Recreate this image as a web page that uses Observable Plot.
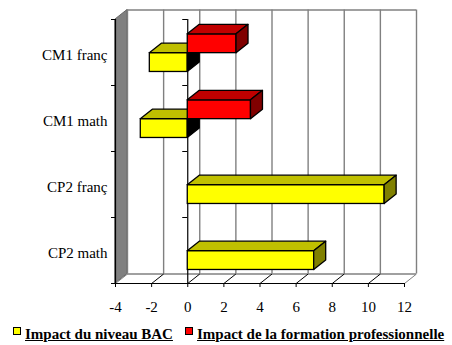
<!DOCTYPE html>
<html>
<head>
<meta charset="utf-8">
<script src="https://cdn.jsdelivr.net/npm/d3@7"></script>
<script src="https://cdn.jsdelivr.net/npm/@observablehq/plot@0.6"></script>
<style>
  body { margin: 0; background: #fff; font-family: "Liberation Serif", "Times New Roman", serif; }
  #wrap { position: relative; width: 452px; height: 345px; }
  #chart svg { display: block; }
  #chart svg text { font-family: "Liberation Serif", "Times New Roman", serif; }
  .key { position: absolute; top: 327px; width: 8px; height: 8px; box-sizing: border-box; border: 1px solid #000; }
  .lab { position: absolute; top: 326px; font-family: "Liberation Serif", "Times New Roman", serif; font-size: 15px; font-weight: bold; text-decoration: underline; white-space: nowrap; color: #000; }
</style>
</head>
<body>
<div id="wrap">
  <div id="chart"></div>
  <div id="legend"></div>
</div>
<script>
// Categories, top to bottom
const categories = ["CM1 franç", "CM1 math", "CP2 franç", "CP2 math"];
const seriesNames = ["Impact du niveau BAC", "Impact de la formation professionnelle"];
// Effect sizes per category
const bacValues = [-2.1, -2.6, 10.9, 7.0];
const formationValues = [2.7, 3.5, 0, 0];
// Value axis ticks
const xTicks = [-4, -2, 0, 2, 4, 6, 8, 10, 12];

const colors = [
  {front: "#ffff00", top: "#c0c000", side: "#808000", key: "#ffff00"},
  {front: "#ff0000", top: "#c00000", side: "#800000", key: "#ff0000"}
];

const SERIF = "'Liberation Serif', 'Times New Roman', serif";

// Plot frame
const W = 452, H = 318, ML = 115, MR = 48, MT = 19, MB = 35;
const xDomain = [xTicks[0], xTicks[xTicks.length - 1]];
const pxX = (W - ML - MR) / (xDomain[1] - xDomain[0]);
const pxY = (H - MT - MB) / categories.length;
// Depth of the 3-D projection (pixels), converted to data units
const ddx = 12 / pxX;
const ddy = -9.5 / pxY;
// Vertical slot of each series inside a category band (series 0 below series 1)
const slots = [[0.51, 0.795], [0.225, 0.51]];

const valuesBySeries = [bacValues, formationValues];
const bars = valuesBySeries.map((vals, s) =>
  vals.map((v, i) => ({
    id: `${s}-${i}`, s, i, v,
    lo: Math.min(0, v), hi: Math.max(0, v),
    y1: i + slots[s][0], y2: i + slots[s][1]
  })).filter(b => b.v !== 0)
);

function barMarks(list, c) {
  const tops = list.flatMap(b => [
    {id: b.id, y: b.y1, x1: b.lo, x2: b.hi},
    {id: b.id, y: b.y1 + ddy, x1: b.lo + ddx, x2: b.hi + ddx}
  ]);
  const sides = list.flatMap(b => [
    {id: b.id, x: b.hi, y1: b.y2, y2: b.y1, fill: b.v < 0 ? "#000000" : c.side},
    {id: b.id, x: b.hi + ddx, y1: b.y2 + ddy, y2: b.y1 + ddy, fill: b.v < 0 ? "#000000" : c.side}
  ]);
  return [
    Plot.rect(list, {x1: "lo", x2: "hi", y1: "y1", y2: "y2", fill: c.front, stroke: "#000", strokeWidth: 1.3}),
    Plot.areaX(tops, {y: "y", x1: "x1", x2: "x2", z: "id", fill: c.top, stroke: "#000", strokeWidth: 1.3}),
    Plot.areaY(sides, {x: "x", y1: "y1", y2: "y2", z: "id", fill: "fill", stroke: "#000", strokeWidth: 1.3})
  ];
}

const boundaries = d3.range(categories.length + 1);
const x0 = xDomain[0], x1 = xDomain[1], yMax = categories.length;

const chart = Plot.plot({
  width: W, height: H,
  marginLeft: ML, marginRight: MR, marginTop: MT, marginBottom: MB,
  x: {domain: xDomain, axis: null},
  y: {domain: [0, yMax], reverse: true, axis: null},
  color: {type: "identity"},
  style: {background: "#fff", fontFamily: SERIF, fontSize: "15px", color: "#000", overflow: "visible"},
  marks: [
    // side wall
    Plot.areaY([{x: x0, y1: yMax, y2: 0}, {x: x0 + ddx, y1: yMax + ddy, y2: ddy}],
      {x: "x", y1: "y1", y2: "y2", fill: "#808080", stroke: "#666", strokeWidth: 1}),
    // back wall gridlines and edges
    Plot.ruleX(xTicks, {x: d => d + ddx, y1: ddy, y2: yMax + ddy, stroke: "#808080", strokeWidth: 1.4}),
    Plot.ruleY([ddy, yMax + ddy], {y: d => d, x1: x0 + ddx, x2: x1 + ddx, stroke: "#808080", strokeWidth: 1.4}),
    // floor
    Plot.link(xTicks, {x1: d => d, y1: yMax, x2: d => d + ddx, y2: yMax + ddy,
      stroke: d => (d === x0 || d === x1) ? "#808080" : "#000000", strokeWidth: 1}),
    // value axis
    Plot.ruleY([yMax], {y: d => d, x1: x0, x2: x1, stroke: "#000", strokeWidth: 1.2}),
    Plot.ruleX(xTicks, {x: d => d, y1: yMax, y2: yMax + 4 / pxY, stroke: "#000"}),
    Plot.text(xTicks, {x: d => d, y: yMax, dy: 24, text: d => String(d), fontSize: 15, fontFamily: SERIF, fill: "#000"}),
    // category axes
    Plot.ruleX([x0, 0], {x: d => d, y1: 0, y2: yMax, stroke: "#000", strokeWidth: 1.2}),
    Plot.ruleY(boundaries, {y: d => d, x1: x0 - 4 / pxX, x2: x0, stroke: "#000"}),
    Plot.ruleY(boundaries, {y: d => d, x1: -5 / pxX, x2: 0, stroke: "#000"}),
    Plot.text(categories, {x: x0, y: (d, i) => i + 0.548, text: d => d, textAnchor: "end", dx: -8,
      fontSize: 15, fontFamily: SERIF, fill: "#000"}),
    // bars, lower series first
    ...barMarks(bars[0], colors[0]),
    ...barMarks(bars[1], colors[1])
  ]
});
document.getElementById("chart").appendChild(chart);

// legend
const legend = document.getElementById("legend");
const keyX = [13, 185];
seriesNames.forEach((name, s) => {
  const k = document.createElement("div");
  k.className = "key";
  k.style.left = keyX[s] + "px";
  k.style.background = colors[s].key;
  legend.appendChild(k);
  const t = document.createElement("div");
  t.className = "lab";
  t.style.left = (keyX[s] + 12) + "px";
  t.textContent = name;
  legend.appendChild(t);
});
</script>
</body>
</html>
